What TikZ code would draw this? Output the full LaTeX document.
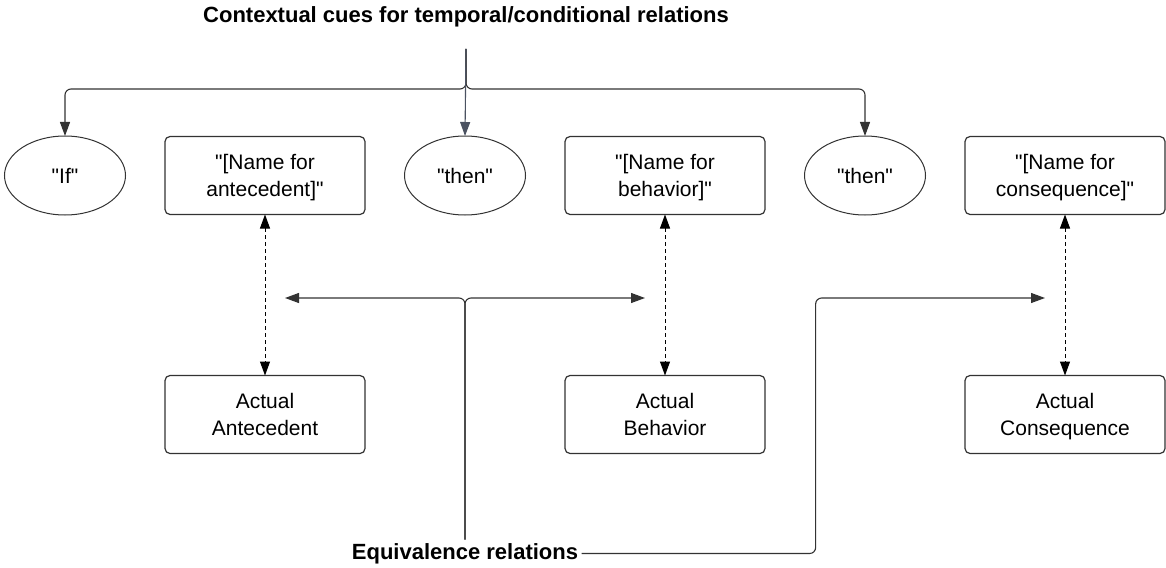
\documentclass[tikz,border=0pt]{standalone}
\usepackage{fontspec}
\setmainfont{Liberation Sans}[Ligatures=TeXOff]
\usetikzlibrary{chains}
\usetikzlibrary{shapes.geometric, arrows.meta}
\usetikzlibrary{positioning}
\definecolor{slate}{HTML}{4B5261}

\begin{document}
\begin{tikzpicture}[
x=1pt, y=-1pt,
start chain=1 going right,
node distance=39.5pt,
cue/.style={
	on chain=1,
	ellipse,
	draw=black!80,
	line width=1pt,
	outer sep=0pt,
	minimum width=121pt,
	minimum height=79pt,
	inner sep=0pt
},
term/.style={
	rectangle,
	rounded corners=5pt,
	draw=black!80,
	line width=1.2pt,
	outer sep=0pt,
	align=center,
	text depth=0pt,
	minimum width=200pt,
	minimum height=78pt
},
upper/.style={
	term,
	on chain=1
},
lbl/.style={font=\fontsize{22}{26}\selectfont\bfseries},
arr/.style={draw=black!80, line width=1.1pt, -{Triangle[length=14pt,width=10pt]}},
eqv/.style={draw=black, line width=1pt, dash pattern=on 4pt off 3pt,
	{Triangle[length=14pt,width=10pt]}-{Triangle[length=14pt,width=10pt]}},
every node/.style={font=\fontsize{21}{27}\selectfont}
]
\useasboundingbox (0,0) rectangle (1166,567);

% Title
\node [lbl] (cues) at (466,17) {Contextual cues for temporal/conditional relations};

% Upper row
\node [cue] (if) at (65,175.5) {"If"};
\node [upper] (nameA) {"[Name for\\antecedent]"};
\node [cue] (then1) {"then"};
\node [upper] (nameB) {"[Name for\\behavior]"};
\node [cue] (then2) {"then"};
\node [upper] (nameC) {"[Name for\\consequence]"};

% Lower row
\node [term, below=161pt of nameA] (actA) {Actual\\Antecedent};
\node [term, below=161pt of nameB] (actB) {Actual\\Behavior};
\node [term, below=161pt of nameC] (actC) {Actual\\Consequence};

% Cue connectors
\coordinate (cuesrc) at (466,49);
\draw [arr, rounded corners=6pt] (cuesrc) -- ++(0,40) -| (if.north);
\draw [arr, rounded corners=6pt] (cuesrc) -- ++(0,40) -| (then2.north);
\draw [arr, draw=slate, -{Triangle[length=14pt,width=10pt,fill=slate]}] (cuesrc) -- (then1.north);

% Name <-> actual
\draw [eqv] (nameA.south) -- (actA.north);
\draw [eqv] (nameB.south) -- (actB.north);
\draw [eqv] (nameC.south) -- (actC.north);

% Equivalence
\node [lbl] (equiv) at (465,553.5) {Equivalence relations};
\coordinate (eqA) at (285,298);
\coordinate (eqB) at (645,298);
\coordinate (eqC) at (1045,298);
\draw [arr, rounded corners=6pt] (equiv.north) |- (eqA);
\draw [arr, rounded corners=6pt] (equiv.north) |- (eqB);
\draw [arr, rounded corners=6pt] (equiv.east) -- ++(234,0) |- (eqC);

\end{tikzpicture}
\end{document}
